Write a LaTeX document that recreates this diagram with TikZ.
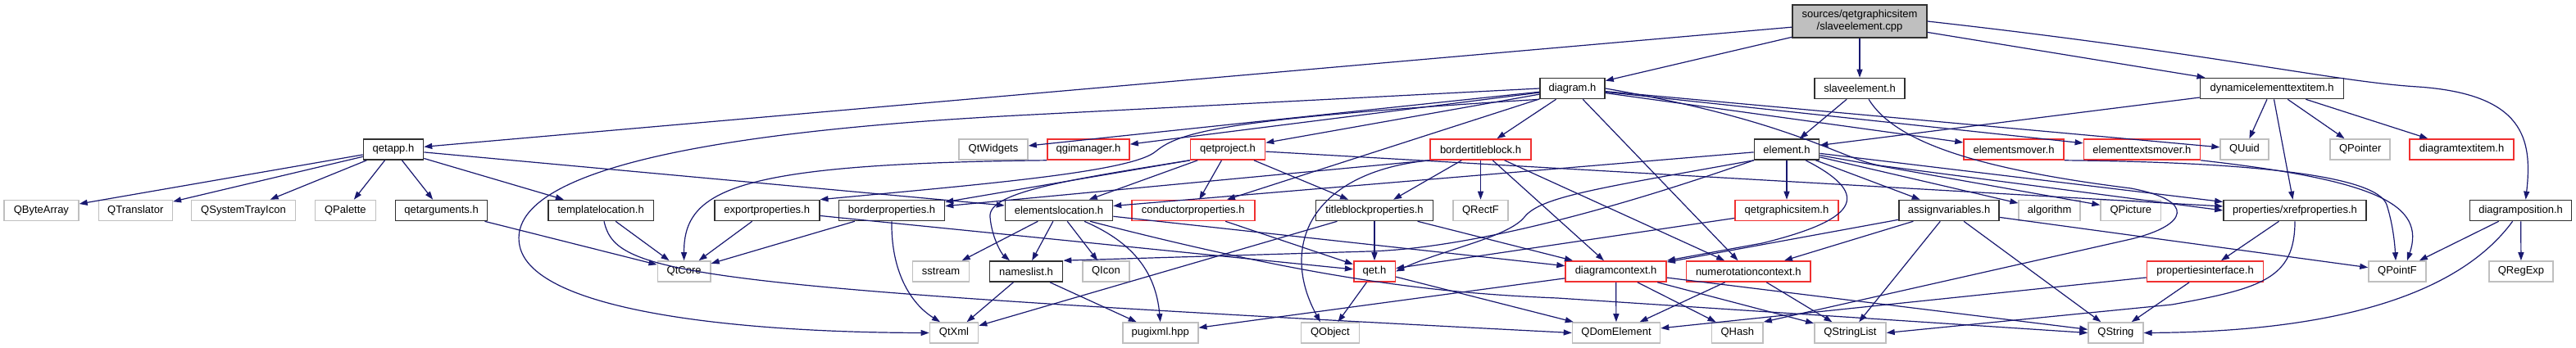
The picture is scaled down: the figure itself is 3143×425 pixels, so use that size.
\documentclass[tikz,border=0pt]{standalone}
\usepackage{fontspec}
\setmainfont{Liberation Sans}
\usetikzlibrary{arrows.meta,calc}
\definecolor{edgec}{HTML}{191970}
\definecolor{greyb}{HTML}{BFBFBF}
\definecolor{redb}{HTML}{F03030}
\definecolor{blkb}{HTML}{303030}
\begin{document}
\begin{tikzpicture}[x=1pt,y=-1pt,
  box/.style={rectangle, draw, line width=1.6pt, inner sep=0pt, minimum height=25pt, font=\fontsize{13}{15}\selectfont},
  blk/.style={box, draw=blkb},
  rd/.style={box, draw=redb},
  gr/.style={box, draw=greyb},
  edge/.style={draw=edgec, line width=1.2pt, -{Triangle[length=10pt,width=7pt]}}]
\useasboundingbox[fill=white] (0,0) rectangle (3143,425);
% row A
\node[box, draw=blkb, fill=greyb, minimum width=164, minimum height=40, align=center] (root) at (2269,26) {sources/qetgraphicsitem\\/slaveelement.cpp};
% row B
\node[blk, minimum width=79] (diagram) at (1918.5,108) {diagram.h};
\node[blk, minimum width=110] (slave) at (2269,108) {slaveelement.h};
\node[blk, minimum width=175] (dyn) at (2772,108) {dynamicelementtextitem.h};
% row C
\node[blk, minimum width=73] (qetapp) at (480,182.5) {qetapp.h};
\node[gr, minimum width=84] (qtwidgets) at (1212,182.5) {QtWidgets};
\node[rd, minimum width=100] (qgimanager) at (1328,182.5) {qgimanager.h};
\node[rd, minimum width=91] (qetproject) at (1498,182.5) {qetproject.h};
\node[rd, minimum width=122.5] (bordertb) at (1806.5,182.5) {bordertitleblock.h};
\node[blk, minimum width=79] (element) at (2180,182.5) {element.h};
\node[rd, minimum width=122] (elmover) at (2457,182.5) {elementsmover.h};
\node[rd, minimum width=142] (eltxtmover) at (2613.4,182.5) {elementtextsmover.h};
\node[gr, minimum width=58.6] (quuid) at (2738.4,182.5) {QUuid};
\node[gr, minimum width=73] (qpointer) at (2879.7,182.5) {QPointer};
\node[rd, minimum width=127] (dtextitem) at (3003.6,182.5) {diagramtextitem.h};
% row D
\node[gr, minimum width=91] (qbytearray) at (50.4,257) {QByteArray};
\node[gr, minimum width=90] (qtranslator) at (165.3,257) {QTranslator};
\node[gr, minimum width=127] (qsystray) at (297,257) {QSystemTrayIcon};
\node[gr, minimum width=74] (qpalette) at (421.4,257) {QPalette};
\node[blk, minimum width=112] (qetargs) at (538.6,257) {qetarguments.h};
\node[blk, minimum width=128.6] (templateloc) at (733,257) {templatelocation.h};
\node[blk, minimum width=128] (exportprops) at (935.7,257) {exportproperties.h};
\node[blk, minimum width=129] (borderprops) at (1088,257) {borderproperties.h};
\node[blk, minimum width=131] (elemloc) at (1292,257) {elementslocation.h};
\node[rd, minimum width=150] (condprops) at (1455.7,257) {conductorproperties.h};
\node[blk, minimum width=143] (tbprops) at (1677,257) {titleblockproperties.h};
\node[gr, minimum width=67] (qrectf) at (1806.5,257) {QRectF};
\node[rd, minimum width=126] (qetgi) at (2180,257) {qetgraphicsitem.h};
\node[blk, minimum width=122.5] (assignvars) at (2378,257) {assignvariables.h};
\node[gr, minimum width=75] (algorithm) at (2500.7,257) {algorithm};
\node[gr, minimum width=73.4] (qpicture) at (2599.8,257) {QPicture};
\node[blk, minimum width=174] (xref) at (2800,257) {properties/xrefproperties.h};
\node[blk, minimum width=124] (diagpos) at (3075.6,257) {diagramposition.h};
% row E
\node[gr, minimum width=64.5] (qtcore) at (834.6,331.5) {QtCore};
\node[gr, minimum width=69] (sstream) at (1148,331.5) {sstream};
\node[blk, minimum width=89] (nameslist) at (1252,331.5) {nameslist.h};
\node[gr, minimum width=57] (qicon) at (1349.4,331.5) {QIcon};
\node[rd, minimum width=50.6] (qet) at (1677,331.5) {qet.h};
\node[rd, minimum width=123] (dctx) at (1971.6,331.5) {diagramcontext.h};
\node[rd, minimum width=151.4] (numctx) at (2133.3,331.5) {numerotationcontext.h};
\node[rd, minimum width=142] (propif) at (2690.5,331.5) {propertiesinterface.h};
\node[gr, minimum width=70] (qpointf) at (2925,331.5) {QPointF};
\node[gr, minimum width=78.3] (qregexp) at (3076,331.5) {QRegExp};
% row F
\node[gr, minimum width=59] (qtxml) at (1164,406.5) {QtXml};
\node[gr, minimum width=92] (pugixml) at (1415.7,406.5) {pugixml.hpp};
\node[gr, minimum width=71] (qobject) at (1622.9,406.5) {QObject};
\node[gr, minimum width=107] (qdomelement) at (1972,406.5) {QDomElement};
\node[gr, minimum width=62.4] (qhash) at (2119.8,406.5) {QHash};
\node[gr, minimum width=87] (qstringlist) at (2257.4,406.5) {QStringList};
\node[gr, minimum width=66.8] (qstring) at (2581.4,406.5) {QString};
% ---- edges ----
% root
\draw[edge] (root) -- (qetapp);
\draw[edge] (root) -- (diagram);
\draw[edge] (root) -- (slave);
\draw[edge] (root) -- (dyn);
\draw[edge] (root.east) .. controls (2700,65) and (2850,100) .. (2950,106) .. controls (3080,115) and (3090,170) .. ($(diagpos.north)+(6,0)$);
% qetapp
\draw[edge] (qetapp) -- (qbytearray);
\draw[edge] (qetapp) -- (qtranslator);
\draw[edge] (qetapp) -- (qsystray);
\draw[edge] (qetapp) -- (qpalette);
\draw[edge] (qetapp) -- (qetargs);
\draw[edge] (qetapp) -- (templateloc);
\draw[edge] (qetapp) -- (elemloc);
\draw[edge] (qetargs) -- (qtcore);
\draw[edge] (templateloc) -- (qtcore);
\draw[edge] ($(templateloc.south)+(4,0)$) .. controls (752,335) and (820,350) .. (qdomelement.west);
\draw[edge] (exportprops) -- (qtcore);
\draw[edge] (exportprops) -- (qet);
\draw[edge] (borderprops) -- (qtcore);
\draw[edge] (borderprops.south) .. controls (1087,330) and (1110,370) .. ($(qtxml.north)+(-17,0)$);
\draw[edge] (qgimanager.south west) .. controls (900,200) and (834,230) .. (qtcore.north);
% diagram
\draw[edge] (diagram) -- (qtwidgets);
\draw[edge] (diagram) -- (qgimanager);
\draw[edge] (diagram) -- (qetproject);
\draw[edge] (diagram) -- (bordertb);
\draw[edge] (diagram) -- (condprops);
\draw[edge] (diagram) -- (numctx);
\draw[edge] (diagram) -- (elmover);
\draw[edge] (diagram) -- (eltxtmover);
\draw[edge] (diagram) -- (quuid);
\draw[edge] (diagram.east) .. controls (2200,150) and (2250,198) .. (2300,203) -- (xref.west);
\draw[edge] (diagram.south west) .. controls (1500,145) and (1440,160) .. (1410,185) .. controls (1380,210) and (1200,225) .. (exportprops.north east);
\draw[edge] (diagram.west) -- (1260,140) .. controls (760,165) and (620,230) .. (634,300) .. controls (650,380) and (900,406) .. (qtxml.west);
% qetproject
\draw[edge] (qetproject.south west) -- ($(borderprops.north east)+(0,3)$);
\draw[edge] (qetproject) -- (elemloc);
\draw[edge] (qetproject) -- (condprops);
\draw[edge] (qetproject) -- (tbprops);
\draw[edge] (qetproject) -- (xref);
\draw[edge] (qetproject.south west) .. controls (1300,220) and (1205,235) .. (1208,265) .. controls (1210,290) and (1222,310) .. ($(nameslist.north)+(-20,0)$);
% bordertitleblock
\draw[edge] (bordertb.south west) -- ($(borderprops.north east)+(0,8)$);
\draw[edge] (bordertb) -- (tbprops);
\draw[edge] (bordertb) -- (qrectf);
\draw[edge] (bordertb) -- (dctx);
\draw[edge] (bordertb) -- (numctx);
\draw[edge] (bordertb.south west) .. controls (1600,210) and (1560,300) .. ($(qobject.north)+(-12,0)$);
% element
\draw[edge] (element) -- (qetgi);
\draw[edge] (element) -- (assignvars);
\draw[edge] (element) -- (algorithm);
\draw[edge] (element) -- (qpicture);
\draw[edge] (element) -- (xref);
\draw[edge] (element) -- (elemloc);
\draw[edge] ($(element.south)+(23,0)$) .. controls (2290,240) and (2260,270) .. (2150,297) -- (dctx.north east);
\draw[edge] (element.south west) .. controls (1950,230) and (1880,240) .. (1860,265) .. controls (1840,290) and (1760,305) .. (qet.east);
\draw[edge] (element.south west) .. controls (1900,280) and (1750,305) .. (1670,307) -- (nameslist.north east);
% slaveelement / dynamic
\draw[edge] (slave) -- (element);
\draw[edge] ($(slave.south)+(11,0)$) .. controls (2310,170) and (2400,205) .. (2600,230) .. controls (2680,245) and (2670,275) .. (2600,292) -- (qhash.north east);
\draw[edge] (dyn) -- (element);
\draw[edge] (dyn) -- (quuid);
\draw[edge] (dyn) -- (qpointer);
\draw[edge] (dyn) -- (dtextitem);
\draw[edge] (dyn) -- (xref);
\draw[edge] (elmover.south east) .. controls (2750,198) and (2900,215) .. (2912,250) .. controls (2920,275) and (2922,300) .. ($(qpointf.north)+(-2,0)$);
\draw[edge] (eltxtmover.south east) .. controls (2900,220) and (2960,250) .. ($(qpointf.north)+(12,0)$);
% row D sources
\draw[edge] (elemloc) -- (sstream);
\draw[edge] (elemloc) -- (nameslist);
\draw[edge] (elemloc) -- (qicon);
\draw[edge] ($(elemloc.south)+(31,0)$) .. controls (1380,295) and (1410,330) .. (pugixml.north);
\draw[edge] (elemloc) -- (dctx);
\draw[edge] ($(elemloc.south)+(38,0)$) .. controls (1600,340) and (1750,358) .. (1900,364) -- (qstring.west);
\draw[edge] (condprops) -- (qet);
\draw[edge] (tbprops) -- (qet);
\draw[edge] (tbprops) -- (qtxml);
\draw[edge] (tbprops) -- (dctx);
\draw[edge] (qetgi) -- (qet);
\draw[edge] (assignvars) -- (dctx);
\draw[edge] (assignvars) -- (numctx);
\draw[edge] (assignvars) -- (qstringlist);
\draw[edge] (assignvars) -- (qstring);
\draw[edge] (assignvars) -- (qpointf);
\draw[edge] (xref) -- (propif);
\draw[edge] (xref.south) .. controls (2800,340) and (2760,352) .. (2650,372) -- (qstringlist.east);
\draw[edge] (diagpos) -- (qpointf);
\draw[edge] (diagpos) -- (qregexp);
\draw[edge] ($(diagpos.south)+(-10,0)$) .. controls (3000,360) and (2850,405) .. (qstring.east);
% row E sources
\draw[edge] (nameslist) -- (qtxml);
\draw[edge] (nameslist) -- (pugixml);
\draw[edge] (qet) -- (qobject);
\draw[edge] (qet) -- (qdomelement);
\draw[edge] (dctx) -- (pugixml);
\draw[edge] (dctx) -- (qdomelement);
\draw[edge] (dctx) -- (qhash);
\draw[edge] (dctx) -- (qstringlist);
\draw[edge] (dctx) -- (qstring);
\draw[edge] (numctx) -- (qdomelement);
\draw[edge] (numctx) -- (qstringlist);
\draw[edge] (propif) -- (qdomelement);
\draw[edge] (propif) -- (qstring);
\end{tikzpicture}
\end{document}
